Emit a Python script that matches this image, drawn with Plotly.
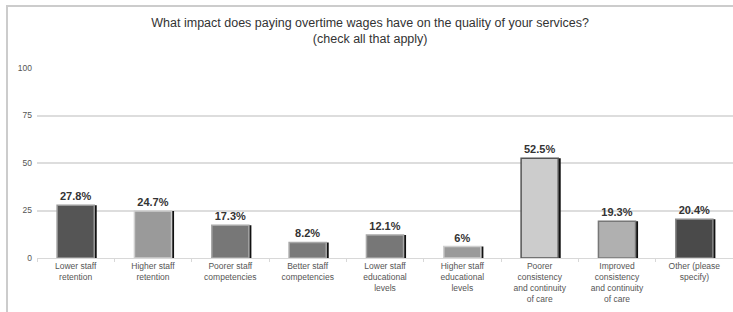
import plotly.graph_objects as go

categories = [
    "Lower staff<br>retention",
    "Higher staff<br>retention",
    "Poorer staff<br>competencies",
    "Better staff<br>competencies",
    "Lower staff<br>educational<br>levels",
    "Higher staff<br>educational<br>levels",
    "Poorer<br>consistency<br>and continuity<br>of care",
    "Improved<br>consistency<br>and continuity<br>of care",
    "Other (please<br>specify)",
]
values = [27.8, 24.7, 17.3, 8.2, 12.1, 6, 52.5, 19.3, 20.4]
fill_colors = ["#555555", "#9a9a9a", "#777777", "#7a7a7a", "#777777",
               "#9a9a9a", "#cccccc", "#b0b0b0", "#4a4a4a"]
edge_colors = ["#9a9a9a", "#cfcfcf", "#a8a8a8", "#a8a8a8", "#a8a8a8",
               "#cfcfcf", "#555555", "#777777", "#8a8a8a"]
y_ticks = [0, 25, 50, 75, 100]
title_text = ("What impact does paying overtime wages have on the quality of your services?"
              "<br>(check all that apply)")

W, H = 733, 312
ML, MT, MB = 37, 68, 54
pw = W - ML

bar_w = 0.48
shadow_dx = 2.5 / (pw / len(categories))

fig = go.Figure()

# decorative panel frame on a full-figure helper axis (pixel coordinates)
fig.add_trace(go.Scatter(
    x=[7, 7, 733], y=[H + 5, 6, 6], mode="lines",
    line=dict(color="#cccccc", width=2),
    xaxis="x2", yaxis="y2", hoverinfo="skip", showlegend=False,
))

fig.add_trace(go.Bar(
    x=categories, y=values, width=bar_w, offset=-bar_w / 2 + shadow_dx,
    marker=dict(color="#111111", line=dict(width=0)),
    hoverinfo="skip", showlegend=False,
))
fig.add_trace(go.Bar(
    x=categories, y=values, width=bar_w, offset=-bar_w / 2,
    marker=dict(color=fill_colors, line=dict(color=edge_colors, width=1.5)),
    texttemplate="%{y}%", textposition="outside", cliponaxis=False,
    textfont=dict(family="Liberation Sans", size=11, color="#333333", weight="bold"),
    showlegend=False,
))

fig.update_layout(
    width=W, height=H,
    margin=dict(l=0, r=0, t=0, b=0, autoexpand=False),
    paper_bgcolor="white", plot_bgcolor="rgba(0,0,0,0)",
    barmode="overlay",
    title=dict(text=title_text, x=0.505, xanchor="center", yref="container",
               y=1 - 27 / H, yanchor="middle",
               font=dict(family="Liberation Sans", size=12.5, color="#333333"),
               automargin=False),
    font=dict(family="Liberation Sans", color="#555555"),
    xaxis=dict(domain=[ML / W, 1], showline=True, linecolor="#d8d8d8", linewidth=1,
               automargin=False,
               ticks="outside", tickson="boundaries", ticklen=3, tickcolor="#d8d8d8",
               tickfont=dict(size=8.5, color="#555555"), showgrid=False),
    yaxis=dict(domain=[MB / H, 1 - MT / H], range=[0, 100], tickvals=y_ticks,
               gridcolor="#dddddd", gridwidth=1.5, automargin=False,
               zeroline=False, tickfont=dict(size=8.5, color="#555555"),
               ticklabelstandoff=4),
    xaxis2=dict(domain=[0, 1], range=[0, W], visible=False, anchor="y2",
                overlaying=None, fixedrange=True),
    yaxis2=dict(domain=[0, 1], range=[H, 0], visible=False, anchor="x2",
                fixedrange=True),
)

fig.write_html("out.html", config={"displayModeBar": False},
               post_script="document.body.style.margin='0px';document.body.style.padding='0px';")
